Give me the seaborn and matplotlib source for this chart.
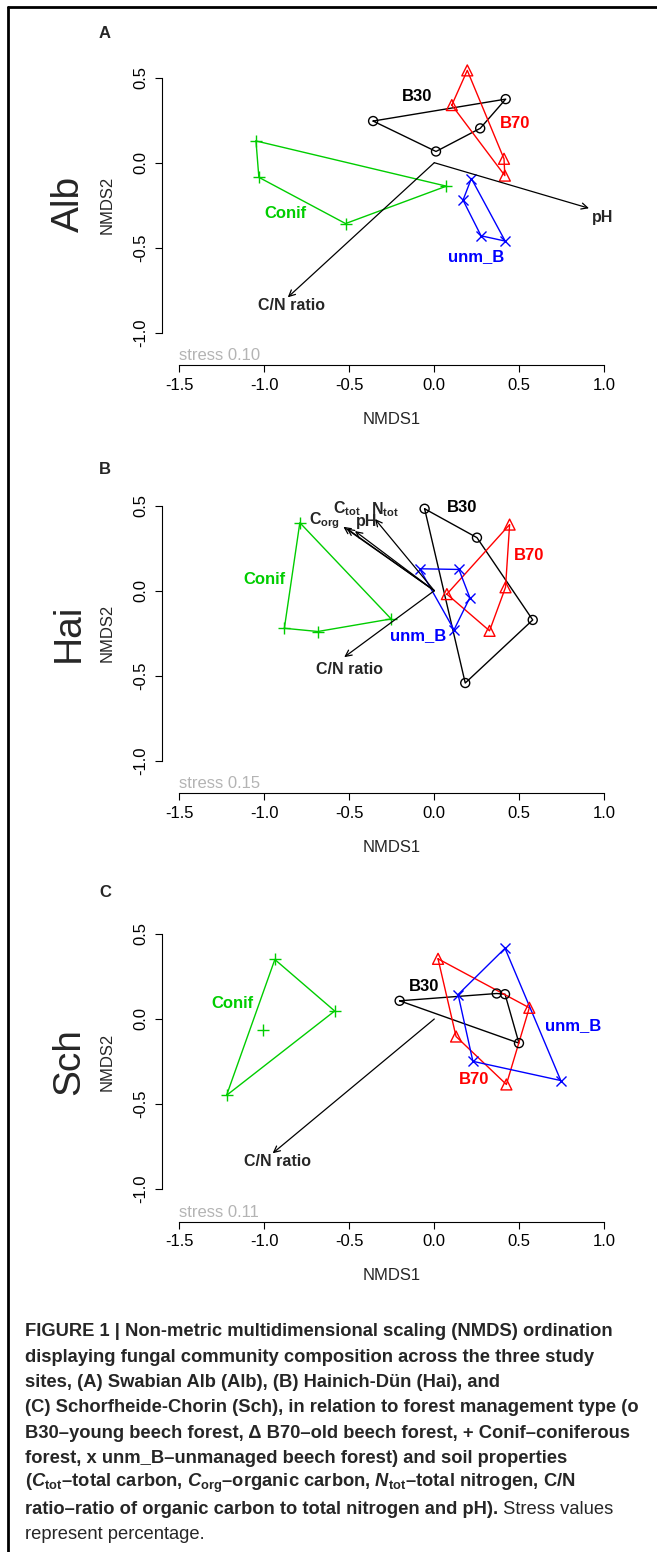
import numpy as np
import pandas as pd
import matplotlib
matplotlib.use("Agg")
import matplotlib.pyplot as plt
import seaborn as sns
from matplotlib.lines import Line2D

# --- data: NMDS site scores (NMDS1, NMDS2) ---
groups = ["B30", "B70", "Conif", "unm_B"]
sites = ["Alb", "Hai", "Sch"]
panel_letters = ["A", "B", "C"]
stress_values = ["0.10", "0.15", "0.11"]

alb_b30 = [(-0.36, 0.245), (0.01, 0.066), (0.27, 0.202), (0.42, 0.374)]
alb_b70 = [(0.194, 0.543), (0.103, 0.339), (0.41, 0.023), (0.415, -0.076)]
alb_conif = [(-1.049, 0.128), (-1.032, -0.086), (-0.522, -0.358), (0.071, -0.138)]
alb_unm = [(0.218, -0.093), (0.169, -0.22), (0.275, -0.43), (0.417, -0.461)]

hai_b30 = [(-0.057, 0.482), (0.251, 0.312), (0.579, -0.172), (0.182, -0.543)]
hai_b70 = [(0.443, 0.389), (0.419, 0.02), (0.325, -0.236), (0.074, -0.02)]
hai_conif = [(-0.791, 0.40), (-0.882, -0.221), (-0.685, -0.24), (-0.254, -0.166)]
hai_unm = [(-0.086, 0.129), (0.145, 0.125), (0.209, -0.041), (0.116, -0.23)]

sch_b30 = [(-0.204, 0.107), (0.367, 0.15), (0.416, 0.146), (0.498, -0.142)]
sch_b70 = [(0.022, 0.354), (0.559, 0.066), (0.128, -0.103), (0.424, -0.385)]
sch_conif = [(-0.938, 0.35), (-0.586, 0.047), (-1.005, -0.064), (-1.222, -0.449)]
sch_unm = [(0.416, 0.416), (0.14, 0.144), (0.227, -0.249), (0.744, -0.362)]

# envfit vectors (arrow tips)
alb_vec_names = ["pH", "C/N ratio"]
alb_vec_x = [0.91, -0.862]
alb_vec_y = [-0.268, -0.792]

hai_vec_names = [r"$\mathbf{C_{tot}}$", r"$\mathbf{C_{org}}$", "pH", r"$\mathbf{N_{tot}}$", "C/N ratio"]
hai_vec_x = [-0.515, -0.535, -0.467, -0.349, -0.53]
hai_vec_y = [0.366, 0.376, 0.351, 0.422, -0.391]

sch_vec_names = ["C/N ratio"]
sch_vec_x = [-0.951]
sch_vec_y = [-0.79]

# --- styling / layout ---
colors = {"B30": "black", "B70": "#FF0000", "Conif": "#00CD00", "unm_B": "#0000FF"}
markers = {"B30": "o", "B70": "^", "Conif": "+", "unm_B": "x"}
sizes = {"B30": 42, "B70": 62, "Conif": 75, "unm_B": 52}

group_label_pos = [
    {"B30": (-0.10, 0.39), "B70": (0.475, 0.228), "Conif": (-0.874, -0.30), "unm_B": (0.246, -0.553)},
    {"B30": (0.165, 0.492), "B70": (0.559, 0.209), "Conif": (-0.998, 0.066), "unm_B": (-0.094, -0.264)},
    {"B30": (-0.062, 0.189), "B70": (0.234, -0.356), "Conif": (-1.187, 0.091), "unm_B": (0.818, -0.039)},
]
vec_label_pos = [
    [(0.99, -0.32), (-0.84, -0.84)],
    [(-0.515, 0.482), (-0.648, 0.41), (-0.40, 0.408), (-0.29, 0.478), (-0.50, -0.465)],
    [(-0.92, -0.84)],
]

sns.set_style("ticks")
plt.rcParams["font.family"] = ["Liberation Sans", "DejaVu Sans"]
plt.rcParams["mathtext.fontset"] = "custom"
plt.rcParams["mathtext.rm"] = "Liberation Sans"
plt.rcParams["mathtext.it"] = "Liberation Sans:italic"
plt.rcParams["mathtext.bf"] = "Liberation Sans:bold"
try:
    plt.rcParams["mathtext.bfit"] = "Liberation Sans:italic:bold"
    BFIT = r"\mathbfit"
except KeyError:
    BFIT = r"\mathit"


def hull(points):
    pts = sorted(set(points))
    def cross(o, a, b):
        return (a[0] - o[0]) * (b[1] - o[1]) - (a[1] - o[1]) * (b[0] - o[0])
    lower, upper = [], []
    for p in pts:
        while len(lower) >= 2 and cross(lower[-2], lower[-1], p) <= 0:
            lower.pop()
        lower.append(p)
    for p in reversed(pts):
        while len(upper) >= 2 and cross(upper[-2], upper[-1], p) <= 0:
            upper.pop()
        upper.append(p)
    h = lower[:-1] + upper[:-1]
    return h + [h[0]]


W, H = 657, 1552
fig = plt.figure(figsize=(W / 100, H / 100), dpi=100)

panel_data = [
    [alb_b30, alb_b70, alb_conif, alb_unm],
    [hai_b30, hai_b70, hai_conif, hai_unm],
    [sch_b30, sch_b70, sch_conif, sch_unm],
]
vec_data = [
    (alb_vec_names, alb_vec_x, alb_vec_y),
    (hai_vec_names, hai_vec_x, hai_vec_y),
    (sch_vec_names, sch_vec_x, sch_vec_y),
]

scale = 170.0  # px per unit
xlim = (-1.6, 1.1)
ylim = (-1.192, 0.6)
zero_px = [162.7, 590.7, 1019.0]
left_px = 434.3 + xlim[0] * scale
letter_y = [33, 469, 893]
site_y = [204, 633, 1062]

for i in range(3):
    top_px = zero_px[i] - ylim[1] * scale
    h_px = (ylim[1] - ylim[0]) * scale
    w_px = (xlim[1] - xlim[0]) * scale
    ax = fig.add_axes([left_px / W, 1 - (top_px + h_px) / H, w_px / W, h_px / H])
    ax.set_facecolor("none")

    for g, pts in zip(groups, panel_data[i]):
        df = pd.DataFrame(pts, columns=["NMDS1", "NMDS2"])
        hp = hull(pts)
        ax.plot([p[0] for p in hp], [p[1] for p in hp], color=colors[g], lw=1.0, zorder=2)
        if markers[g] in ("o", "^"):
            sns.scatterplot(data=df, x="NMDS1", y="NMDS2", marker=markers[g], s=sizes[g],
                            color=colors[g], facecolor="none", edgecolor=colors[g],
                            linewidth=1.0, ax=ax, zorder=3)
        else:
            sns.scatterplot(data=df, x="NMDS1", y="NMDS2", marker=markers[g], s=sizes[g],
                            color=colors[g], linewidth=1.0, ax=ax, zorder=3)
        lx, ly = group_label_pos[i][g]
        ax.text(lx, ly, g, color=colors[g], fontsize=12, fontweight="bold",
                ha="center", va="center", zorder=4)

    names, vx, vy = vec_data[i]
    for k, (n, x, y) in enumerate(zip(names, vx, vy)):
        ax.annotate("", xy=(x, y), xytext=(0, 0),
                    arrowprops=dict(arrowstyle="->,head_length=0.45,head_width=0.22",
                                    color="black", lw=0.9, shrinkA=0, shrinkB=0,
                                    mutation_scale=10), zorder=4)
        px, py = vec_label_pos[i][k]
        ax.text(px, py, n, fontsize=11.5, fontweight="bold", ha="center", va="center", zorder=5)

    ax.text(-1.5, ylim[0] + 5 / scale, "stress " + stress_values[i], color="#b4b4b4",
            fontsize=12, ha="left", va="baseline")

    ax.set_xlim(xlim)
    ax.set_ylim(ylim)
    ax.set_xticks([-1.5, -1.0, -0.5, 0.0, 0.5, 1.0])
    ax.set_yticks([-1.0, -0.5, 0.0, 0.5])
    ax.set_xticklabels(["-1.5", "-1.0", "-0.5", "0.0", "0.5", "1.0"])
    ax.set_yticklabels(["-1.0", "-0.5", "0.0", "0.5"])
    sns.despine(ax=ax)
    ax.spines["left"].set_bounds(-1.0, 0.5)
    ax.spines["bottom"].set_bounds(-1.5, 1.0)
    for s in ("left", "bottom"):
        ax.spines[s].set_linewidth(0.8)
        ax.spines[s].set_color("black")
    ax.tick_params(direction="out", length=5, width=0.8, labelsize=12, colors="black", pad=4)
    ax.tick_params(axis="y", labelrotation=90, pad=5)
    for lab in ax.get_yticklabels():
        lab.set_va("center")
    ax.set_xlabel("NMDS1", fontsize=12)
    ax.set_ylabel("NMDS2", fontsize=12)
    ax.xaxis.set_label_coords(0.5, -(54) / h_px)
    ax.xaxis.label.set_va("center")
    ax.yaxis.set_label_coords((106.7 - left_px) / w_px, (-0.25 - ylim[0]) / (ylim[1] - ylim[0]))
    ax.yaxis.label.set_va("center")
    ax.grid(False)

    fig.text(105 / W, 1 - letter_y[i] / H, panel_letters[i], fontsize=12, fontweight="bold",
             ha="center", va="center")
    fig.text(69 / W, 1 - site_y[i] / H, sites[i], fontsize=28, rotation=90,
             ha="center", va="center")

# frame lines (left and top)
fig.add_artist(Line2D([8 / W, 8 / W], [0, 1 - 7 / H], transform=fig.transFigure, color="black", lw=2))
fig.add_artist(Line2D([8 / W, 1], [1 - 7 / H, 1 - 7 / H], transform=fig.transFigure, color="black", lw=2))

# caption
cap_lines = [
    "FIGURE 1 | Non-metric multidimensional scaling (NMDS) ordination",
    "displaying fungal community composition across the three study",
    "sites, (A) Swabian Alb (Alb), (B) Hainich-Dün (Hai), and",
    "(C) Schorfheide-Chorin (Sch), in relation to forest management type (o",
    "B30–young beech forest, Δ B70–old beech forest, + Conif–coniferous",
    "forest, x unm_B–unmanaged beech forest) and soil properties",
    "(${0}{{C}}_{{\\mathbf{{tot}}}}$–total carbon, ${0}{{C}}_{{\\mathbf{{org}}}}$–organic carbon, "
    "${0}{{N}}_{{\\mathbf{{tot}}}}$–total nitrogen, C/N".format(BFIT),
    "ratio–ratio of organic carbon to total nitrogen and pH).",
]
cap_y0, cap_dy = 1332, 25.3
cap_fs = 13.2
for j, line in enumerate(cap_lines):
    t = fig.text(25 / W, 1 - (cap_y0 + j * cap_dy) / H, line, fontsize=cap_fs,
                 fontweight="bold", ha="left", va="center")
ax.annotate(" Stress values", xy=(1, 0), xycoords=t, fontsize=cap_fs, ha="left",
            va="bottom", annotation_clip=False)
fig.text(25 / W, 1 - (cap_y0 + 8 * cap_dy) / H, "represent percentage.", fontsize=cap_fs,
         ha="left", va="center")

fig.savefig("out.png", dpi=100)
